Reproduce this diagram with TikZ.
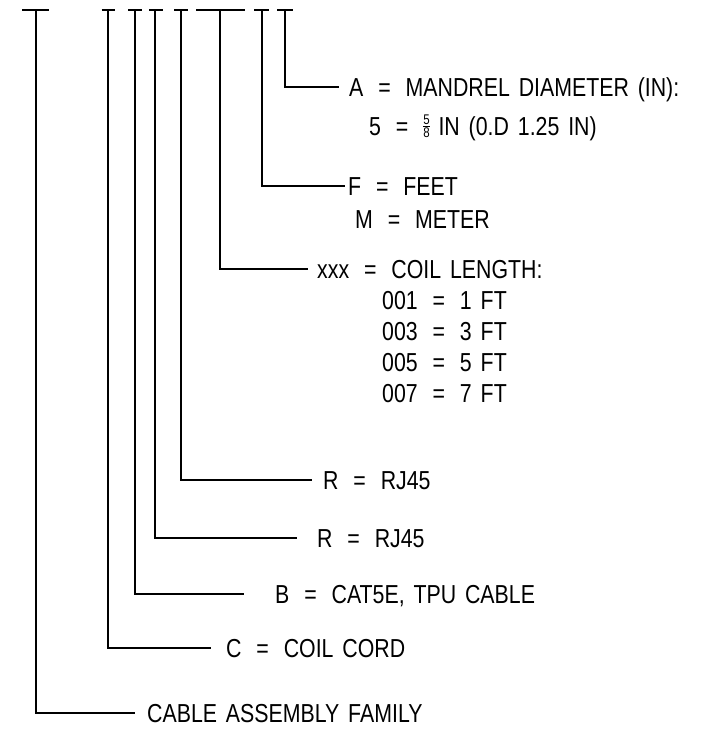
\documentclass[tikz,border=0pt]{standalone}
\usepackage{fontspec}
\setmainfont{Liberation Sans}[FakeStretch=0.82,WordSpace=1.5]
\newcommand\eq{\kern6pt=\kern6pt}
\newcommand\myfrac[2]{\raisebox{3pt}{$\vcenter{\hbox{\fontsize{14}{14}\selectfont#1}\kern1.2pt\hrule height0.9pt\kern1.2pt\hbox{\fontsize{14}{14}\selectfont#2}}$}}
\begin{document}
\begin{tikzpicture}[x=1pt,y=-1pt,
  ln/.style={line width=1.6pt},
  lbl/.style={anchor=base west, inner sep=0pt, font=\fontsize{26}{30}\selectfont}]
\useasboundingbox (0,0) rectangle (704,730);
% part-number bars
\foreach \n/\x/\l/\r in {1/36/14/13, 2/108/6.5/6.5, 3/135/7/7, 4/155/6/8, 5/181/7/7, 6/220/24/25, 7/262/8/7, 8/285/8/8}{
  \coordinate (t\n) at (\x,10);
  \draw[ln] (\x-\l,10) -- (\x+\r,10);
}
% label ends
\coordinate (eA) at (339,87);
\coordinate (eF) at (345,186);
\coordinate (eX) at (308,269);
\coordinate (eR1) at (312,480);
\coordinate (eR2) at (297,538);
\coordinate (eB) at (244,594);
\coordinate (eC) at (211,648);
\coordinate (eK) at (135,713);
% labels
\node[lbl] (lA)  at (349,96.3)  {A \eq{} MANDREL DIAMETER (IN):};
\node[lbl] (lA2) at (369,135.3) {5 \eq{} \myfrac{5}{8}\ IN (0.D 1.25 IN)};
\node[lbl] (lF)  at (348,195.3) {F \eq{} FEET};
\node[lbl] (lM)  at (355,228.3) {M \eq{} METER};
\node[lbl] (lX)  at (317,278.3) {xxx \eq{} COIL LENGTH:};
\node[lbl] (l1)  at (382,309.3) {001 \eq{} 1 FT};
\node[lbl] (l3)  at (382,340.3) {003 \eq{} 3 FT};
\node[lbl] (l5)  at (382,371.3) {005 \eq{} 5 FT};
\node[lbl] (l7)  at (382,402.3) {007 \eq{} 7 FT};
\node[lbl] (lR1) at (323,489.3) {R \eq{} RJ45};
\node[lbl] (lR2) at (317,547.3) {R \eq{} RJ45};
\node[lbl] (lB)  at (275,603.3) {B \eq{} CAT5E, TPU CABLE};
\node[lbl] (lC)  at (226,657.3) {C \eq{} COIL CORD};
\node[lbl] (lK)  at (147,722.3) {CABLE ASSEMBLY FAMILY};
% connectors
\draw[ln] (t8) |- (eA);
\draw[ln] (t7) |- (eF);
\draw[ln] (t6) |- (eX);
\draw[ln] (t5) |- (eR1);
\draw[ln] (t4) |- (eR2);
\draw[ln] (t3) |- (eB);
\draw[ln] (t2) |- (eC);
\draw[ln] (t1) |- (eK);
\end{tikzpicture}
\end{document}
